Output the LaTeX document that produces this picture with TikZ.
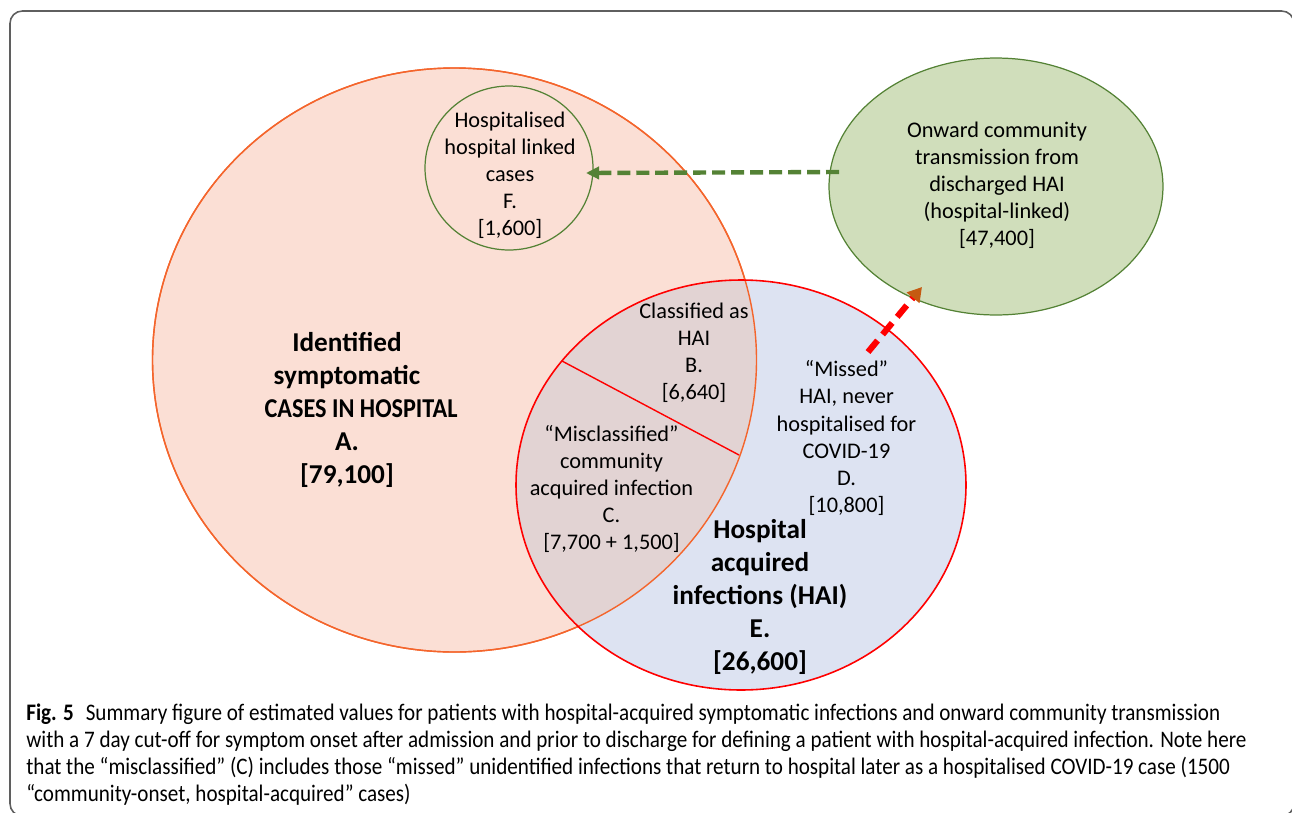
\documentclass[tikz,border=0pt]{standalone}
\usepackage{fontspec}
\setmainfont{Carlito}
\newfontfamily\capfont[FakeStretch=0.89]{Carlito}
\usetikzlibrary{shapes.geometric,arrows.meta}

\definecolor{hospfill}{HTML}{FBDFD5}
\definecolor{hospline}{HTML}{F4652C}
\definecolor{haifill}{HTML}{DDE3F2}
\definecolor{overlapfill}{HTML}{E2D3D3}
\definecolor{onwardfill}{HTML}{D0DEBB}
\definecolor{darkgreen}{HTML}{548235}
\definecolor{headorange}{HTML}{C55A11}
\definecolor{framegray}{HTML}{5F5F5F}

\begin{document}
\begin{tikzpicture}[x=0.02cm,y=-0.02cm,
	lbl/.style={align=center,font=\fontsize{12.7}{15.4}\selectfont},
	biglbl/.style={align=center,font=\fontsize{15.5}{18.8}\selectfont\bfseries},
	greenring/.style={ellipse,draw=darkgreen,line width=0.7pt,inner sep=0pt},
	greendash/.style={draw=darkgreen,line width=2.5pt,dash pattern=on 7.4pt off 3.4pt,
		-{Triangle[length=7.5pt,width=7pt,fill=darkgreen]}},
	reddash/.style={draw=red,line width=3.5pt,dash pattern=on 8.5pt off 4.5pt,
		-{Triangle[length=8pt,width=9pt,color=headorange,fill=headorange]}}]
	\useasboundingbox (0,0) rectangle (1292,812);
	% Rahmen
	\draw[framegray,line width=0.9pt,rounded corners=7pt] (10,11) rectangle (1294,816);

	% Kreise A und E
	\filldraw[fill=hospfill,draw=hospline,line width=0.8pt] (454.5,360) ellipse [x radius=302,y radius=292];
	\fill[haifill] (741,485) ellipse [x radius=225,y radius=205];
	\begin{scope}
		\clip (454.5,360) ellipse [x radius=302,y radius=292];
		\fill[overlapfill] (741,485) ellipse [x radius=225,y radius=205];
	\end{scope}
	\draw[hospline,line width=0.8pt] (454.5,360) ellipse [x radius=302,y radius=292];
	\draw[red,line width=0.9pt] (741,485) ellipse [x radius=225,y radius=205];
	% Trennlinie B / C
	\coordinate (cutl) at (562,361);
	\coordinate (cutr) at (739,455);
	\draw[red,line width=0.8pt] (cutl) -- (cutr);

	% gruene Kreise
	\node[greenring,minimum width=3.36cm,minimum height=3.28cm] (hosplinked) at (509,168) {};
	\node[greenring,fill=onwardfill,minimum width=6.68cm,minimum height=5.14cm] (onward) at (996,186.5) {};

	% Beschriftungen
	\node[lbl] (ftxt) at (510,175) {Hospitalised\\hospital linked\\cases\\F.\\{[1,600]}};
	\node[lbl] (onwtxt) at (997,185.5) {Onward community\\transmission from\\discharged HAI\\(hospital-linked)\\{[47,400]}};
	\node[lbl] (btxt) at (694,352.5) {Classified as\\HAI\\B.\\{[6,640]}};
	\node[lbl] (ctxt) at (611.5,489) {“Misclassified”\\community\\acquired infection\\C.\\{[7,700 + 1,500]}};
	\node[lbl] (dtxt) at (846.5,438) {“Missed”\\HAI, never\\hospitalised for\\COVID-19\\D.\\{[10,800]}};
	\node[biglbl] (atxt) at (347,409.5) {Identified\\symptomatic\\\hspace*{0.56cm}{\addfontfeature{FakeStretch=0.89}CASES IN HOSPITAL}\\A.\\{[79,100]}};
	\node[biglbl] (etxt) at (760,597) {Hospital\\acquired\\infections (HAI)\\E.\\{[26,600]}};

	% Pfeile
	\coordinate (gstart) at (839,172);
	\coordinate (gend) at (586,173);
	\draw[greendash] (gstart) -- (gend);
	\coordinate (rstart) at (868,352);
	\coordinate (rend) at (922,287);
	\draw[reddash] (rstart) -- (rend);

	% Bildunterschrift
	\node[anchor=north west,align=left,inner sep=0pt,
		font=\capfont\fontsize{13.5}{15.4}\selectfont] (caption) at (26,703)
		{\textbf{Fig. 5}\enspace Summary figure of estimated values for patients with hospital-acquired symptomatic infections and onward community transmission\\
		with a 7 day cut-off for symptom onset after admission and prior to discharge for defining a patient with hospital-acquired infection. Note here\\
		that the “misclassified” (C) includes those “missed” unidentified infections that return to hospital later as a hospitalised COVID-19 case (1500\\
		“community-onset, hospital-acquired” cases)};
\end{tikzpicture}
\end{document}
